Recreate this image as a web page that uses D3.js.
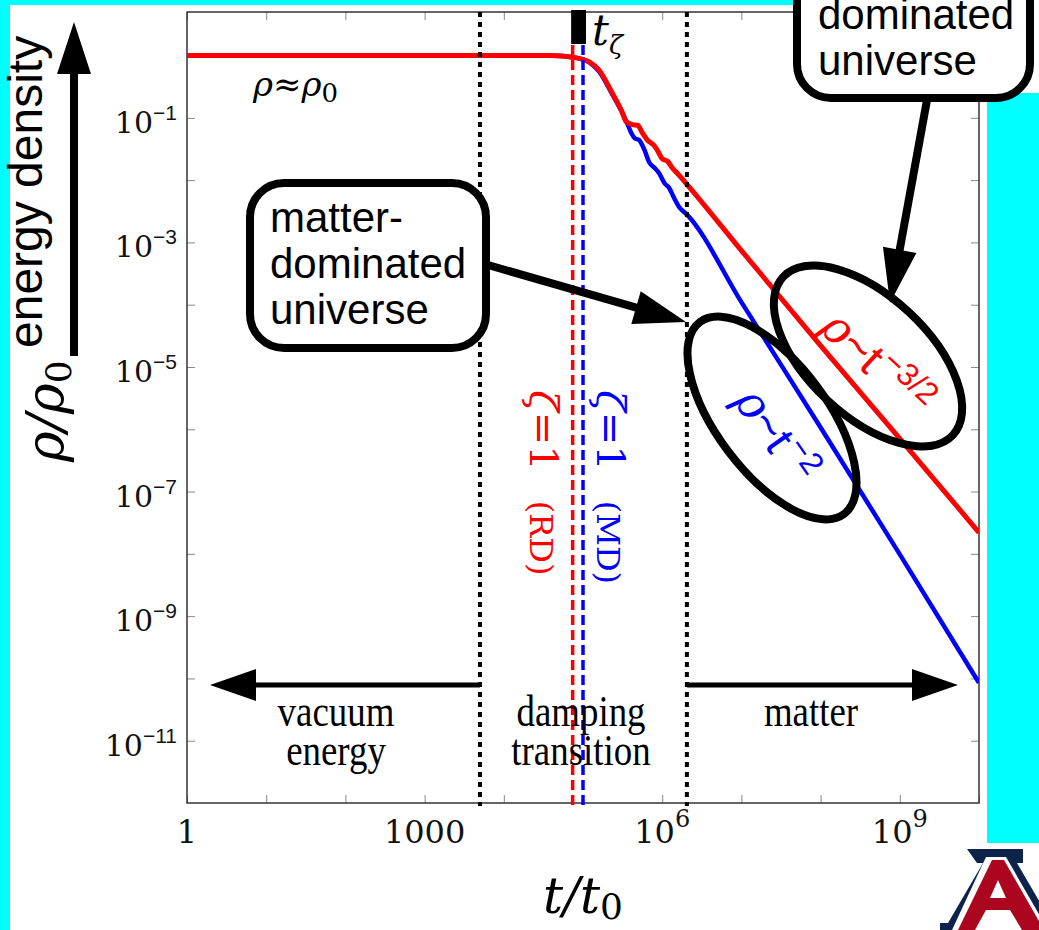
<!DOCTYPE html>
<html>
<head>
<meta charset="utf-8">
<script src="https://cdn.jsdelivr.net/npm/d3@7"></script>
<style>
  html, body { margin: 0; padding: 0; background: #fff; }
  svg { display: block; }
</style>
</head>
<body>
<svg id="chart" width="1039" height="930"></svg>
<script>
// rho/rho0 against t/t0
const tRD = [1, 3.8e4, 7.8e4, 1.2e5, 1.6e5, 2.3e5, 3.1e5, 3.5e5, 4.2e5, 4.9e5, 5.6e5, 6.5e5, 7.9e5, 8.7e5, 1.0e6, 1.17e6, 1.35e6, 1.55e6, 2.0e6, 1e7, 1e8, 1e9, 1e10];
const rhoRD = [1, 1, 0.93, 0.79, 0.58, 0.26, 0.126, 0.087, 0.078, 0.076, 0.058, 0.044, 0.036, 0.030, 0.022, 0.020, 0.0155, 0.0129, 0.0089, 7.4e-4, 2.2e-5, 7.1e-7, 2.2e-8];
const tMD = [1, 3.8e4, 7.8e4, 1.2e5, 1.6e5, 2.3e5, 3.1e5, 3.6e5, 4.1e5, 4.5e5, 5.1e5, 6.0e5, 6.9e5, 7.9e5, 9.1e5, 1.07e6, 1.23e6, 1.41e6, 1.66e6, 2.0e6, 1e7, 1e8, 1e9, 1e10];
const rhoMD = [1, 1, 0.93, 0.78, 0.55, 0.25, 0.124, 0.083, 0.056, 0.047, 0.044, 0.030, 0.019, 0.016, 0.013, 0.0089, 0.0074, 0.0052, 0.0036, 0.0029, 1.1e-4, 1.07e-6, 9.8e-9, 8.5e-11];

// zeta = 1 times and era boundaries
const tZetaRD = 7.4e4;
const tZetaMD = 1.0e5;
const tVacuumEnd = 5.0e3;
const tMatterStart = 2.05e6;

// ticks
const xTicks = [1, 1e1, 1e2, 1e3, 1e4, 1e5, 1e6, 1e7, 1e8, 1e9, 1e10];
const xTickLabels = [
  { v: 1, base: '1', exp: '' },
  { v: 1e3, base: '1000', exp: '' },
  { v: 1e6, base: '10', exp: '6' },
  { v: 1e9, base: '10', exp: '9' }
];
const yTicks = [1, 1e-1, 1e-2, 1e-3, 1e-4, 1e-5, 1e-6, 1e-7, 1e-8, 1e-9, 1e-10, 1e-11];
const yTickLabels = [
  { v: 1e-1, exp: '\u22121' },
  { v: 1e-3, exp: '\u22123' },
  { v: 1e-5, exp: '\u22125' },
  { v: 1e-7, exp: '\u22127' },
  { v: 1e-9, exp: '\u22129' },
  { v: 1e-11, exp: '\u221211' }
];

// era names under the plot
const eras = [
  { cx: 336, lines: ['vacuum', 'energy'] },
  { cx: 581, lines: ['damping', 'transition'] },
  { cx: 811, lines: ['matter'] }
];

const W = 1039, H = 930;
const margin = { top: 12, right: 60, bottom: 127, left: 187 };
const SERIF = '"DejaVu Serif", serif';
const SANS = '"Liberation Sans", Arial, sans-serif';
const RED = '#ff0000', BLUE = '#0000ff', CYAN = '#00ffff';

const svg = d3.select('#chart');

const x = d3.scaleLog().domain([1, 1e10]).range([margin.left, W - margin.right]);
const y = d3.scaleLog().domain([1e-12, 5.0]).range([H - margin.bottom, margin.top]);
const plotW = W - margin.left - margin.right;
const plotH = H - margin.top - margin.bottom;

// backdrop: white page with cyan frame pieces
svg.append('rect').attr('width', W).attr('height', H).attr('fill', '#fff');
svg.append('rect').attr('x', 0).attr('y', 0).attr('width', 10).attr('height', H).attr('fill', CYAN);
svg.append('rect').attr('x', 0).attr('y', 0).attr('width', 800).attr('height', 5).attr('fill', CYAN);
svg.append('rect').attr('x', 987).attr('y', 93).attr('width', 52).attr('height', 750).attr('fill', CYAN);

// axes with inward ticks on all four sides
function styleAxis(g) {
  g.select('.domain').remove();
  g.selectAll('.tick line').attr('stroke', '#888').attr('stroke-width', 1);
  g.selectAll('.tick text').remove();
}
svg.append('g').attr('transform', `translate(0,${margin.top + plotH})`)
  .call(d3.axisBottom(x).tickValues(xTicks).tickSize(-8)).call(styleAxis);
svg.append('g').attr('transform', `translate(0,${margin.top})`)
  .call(d3.axisTop(x).tickValues(xTicks).tickSize(-8)).call(styleAxis);
svg.append('g').attr('transform', `translate(${margin.left},0)`)
  .call(d3.axisLeft(y).tickValues(yTicks).tickSize(-8)).call(styleAxis);
svg.append('g').attr('transform', `translate(${margin.left + plotW},0)`)
  .call(d3.axisRight(y).tickValues(yTicks).tickSize(-8)).call(styleAxis);

svg.append('rect')
  .attr('x', margin.left).attr('y', margin.top)
  .attr('width', plotW).attr('height', plotH)
  .attr('fill', 'none').attr('stroke', '#333').attr('stroke-width', 1.5);

// tick labels
xTickLabels.forEach((d) => {
  const t = svg.append('text')
    .attr('x', x(d.v)).attr('y', 843)
    .attr('text-anchor', 'middle')
    .attr('font-family', SERIF).attr('font-size', 32).attr('fill', '#111');
  t.append('tspan').text(d.base);
  if (d.exp) t.append('tspan').attr('dy', -16).attr('font-size', 24).text(d.exp);
});
yTickLabels.forEach((d) => {
  const t = svg.append('text')
    .attr('x', 177).attr('y', y(d.v) + 15)
    .attr('text-anchor', 'end')
    .attr('font-family', SERIF).attr('font-size', 30).attr('fill', '#111');
  t.append('tspan').text('10');
  t.append('tspan').attr('dy', -13).attr('font-family', SANS).attr('font-size', 21).text(d.exp);
});

// axis titles
const xt = svg.append('text').attr('x', 583).attr('y', 913)
  .attr('text-anchor', 'middle').attr('font-family', SERIF).attr('font-size', 50);
xt.append('tspan').attr('font-style', 'italic').text('t/t');
xt.append('tspan').attr('dy', 6).attr('font-size', 36).text('0');

const yt = svg.append('text').attr('transform', 'translate(63,462) rotate(-90)')
  .attr('font-family', SERIF).attr('font-size', 52);
yt.append('tspan').attr('font-style', 'italic').text('\u03c1/\u03c1');
yt.append('tspan').attr('dy', 8).attr('font-size', 36).text('0');

svg.append('text').attr('transform', 'translate(42,348) rotate(-90)')
  .attr('font-family', SANS).attr('font-size', 48).text('energy density');

// helper: straight arrow with triangular head, tip at (x2,y2)
function arrow(x1, y1, x2, y2, len, half, width) {
  const dx = x2 - x1, dy = y2 - y1, L = Math.hypot(dx, dy);
  const ux = dx / L, uy = dy / L;
  const bx = x2 - ux * len, by = y2 - uy * len;
  svg.append('line')
    .attr('x1', x1).attr('y1', y1)
    .attr('x2', bx + ux * 2).attr('y2', by + uy * 2)
    .attr('stroke', '#000').attr('stroke-width', width);
  svg.append('polygon')
    .attr('points', [[x2, y2], [bx - uy * half, by + ux * half], [bx + uy * half, by - ux * half]].map((p) => p.join(',')).join(' '))
    .attr('fill', '#000');
}

arrow(74, 356, 74, 22, 52, 17, 8);

const plot = svg.append('g');
plot.append('clipPath').attr('id', 'clip')
  .append('rect').attr('x', margin.left).attr('y', margin.top).attr('width', plotW).attr('height', plotH);

// era boundaries
[tVacuumEnd, tMatterStart].forEach((t) => {
  svg.append('line')
    .attr('x1', x(t)).attr('x2', x(t))
    .attr('y1', margin.top).attr('y2', margin.top + plotH + 3)
    .attr('stroke', '#000').attr('stroke-width', 4).attr('stroke-dasharray', '5,5');
});

// zeta = 1 markers
[[tZetaRD, RED], [tZetaMD, BLUE]].forEach(([t, c]) => {
  svg.append('line')
    .attr('x1', x(t)).attr('x2', x(t))
    .attr('y1', 45).attr('y2', margin.top + plotH + 5)
    .attr('stroke', c).attr('stroke-width', 3.5).attr('stroke-dasharray', '10,5');
});
svg.append('rect')
  .attr('x', x(tZetaRD) - 1.5).attr('y', 10)
  .attr('width', x(tZetaMD) - x(tZetaRD) + 4.5).attr('height', 34)
  .attr('fill', '#000');

const tz = svg.append('text').attr('x', 592).attr('y', 45)
  .attr('font-family', SERIF).attr('font-style', 'italic').attr('font-size', 42);
tz.append('tspan').text('t');
tz.append('tspan').attr('dy', 9).attr('font-size', 26).text('\u03b6');

// curves
const line = (ts, rs) => d3.line()
  .x((d, i) => x(ts[i]))
  .y((d, i) => y(rs[i]))
  .curve(d3.curveMonotoneX)(ts);

plot.append('path').attr('clip-path', 'url(#clip)')
  .attr('d', line(tMD, rhoMD))
  .attr('fill', 'none').attr('stroke', BLUE).attr('stroke-width', 4.5);
plot.append('path').attr('clip-path', 'url(#clip)')
  .attr('d', line(tRD, rhoRD))
  .attr('fill', 'none').attr('stroke', RED).attr('stroke-width', 5);

// rho ~ rho0 label
const r0 = svg.append('text').attr('x', 253).attr('y', 96)
  .attr('font-family', SERIF).attr('font-size', 34);
r0.append('tspan').attr('font-style', 'italic').text('\u03c1\u2248\u03c1');
r0.append('tspan').attr('dy', 6).attr('font-size', 26).text('0');

// vertical zeta labels
[[530, RED, 'RD'], [597, BLUE, 'MD']].forEach(([bx, c, tag]) => {
  const t = svg.append('text').attr('transform', `translate(${bx},390) rotate(90)`)
    .attr('font-family', SERIF).attr('font-size', 40).attr('fill', c);
  t.append('tspan').attr('font-style', 'italic').text('\u03b6');
  t.append('tspan').text('=1');
  t.append('tspan').attr('dx', 30).attr('font-size', 32).text('(' + tag + ')');
});

// era labels, bottom
arrow(480, 685, 210, 685, 46, 16, 5);
arrow(687, 685, 958, 685, 46, 16, 5);
eras.forEach((d) => {
  const t = svg.append('text')
    .attr('transform', `translate(${d.cx},726) scale(0.9,1.08)`)
    .attr('text-anchor', 'middle')
    .attr('font-family', '"Liberation Serif", serif').attr('font-size', 41);
  d.lines.forEach((s, i) => {
    t.append('tspan').attr('x', 0).attr('dy', i === 0 ? 0 : 36).text(s);
  });
});

// ellipses around the power-law tails
function ringLabel(cx, cy, a, b, ang, tx, ty, tang, color, exp) {
  svg.append('ellipse')
    .attr('transform', `translate(${cx},${cy}) rotate(${ang})`)
    .attr('rx', a).attr('ry', b)
    .attr('fill', 'none').attr('stroke', '#000').attr('stroke-width', 8);
  const t = svg.append('text')
    .attr('transform', `translate(${tx},${ty}) rotate(${tang})`)
    .attr('text-anchor', 'middle').attr('fill', color)
    .attr('font-family', SANS).attr('font-size', 46);
  t.append('tspan').attr('font-family', SERIF).attr('font-style', 'italic').text('\u03c1');
  t.append('tspan').text('~t');
  t.append('tspan').attr('dy', -18).attr('dx', 2).attr('font-size', 32).text(exp);
}
ringLabel(868, 356, 116, 60, 43, 866, 375, 43, RED, '\u22123/2');
ringLabel(772, 418, 120, 55, 53, 763, 444, 55, BLUE, '\u22122');

// callout boxes
function callout(bx, by, bw, bh, lines, tx, ty0) {
  svg.append('rect')
    .attr('x', bx).attr('y', by).attr('width', bw).attr('height', bh)
    .attr('rx', 34).attr('ry', 34)
    .attr('fill', '#fff').attr('stroke', '#000').attr('stroke-width', 8);
  lines.forEach((s, i) => {
    svg.append('text').attr('x', tx).attr('y', ty0 + i * 46)
      .attr('font-family', SANS).attr('font-size', 42).text(s);
  });
}
callout(250, 183, 236, 165, ['matter-', 'dominated', 'universe'], 270, 232);
arrow(488, 265, 686, 322, 52, 17, 8);

callout(797, -70, 233, 168, ['dominated', 'universe'], 818, 29);
arrow(927, 100, 890, 303, 54, 17, 8);

// University of Arizona block A
const logo = svg.append('g');
logo.append('polygon').attr('fill', '#0c234b')
  .attr('points', '967,849 1023,849 1023,863 1017,863 1052,923 1060,923 1060,930 940,930 940,923 948,923 983,863 977,863');
logo.append('polygon').attr('fill', '#fff')
  .attr('points', '986,857 1006,857 1048,930 952,930');
logo.append('polygon').attr('fill', '#ab0520')
  .attr('points', '992,860 1004,860 1044,930 958,930');
logo.append('polygon').attr('fill', '#fff')
  .attr('points', '998,880 1006,898 990,898');
logo.append('polygon').attr('fill', '#fff')
  .attr('points', '986,910 1010,910 1022,930 975,930');
</script>
</body>
</html>
